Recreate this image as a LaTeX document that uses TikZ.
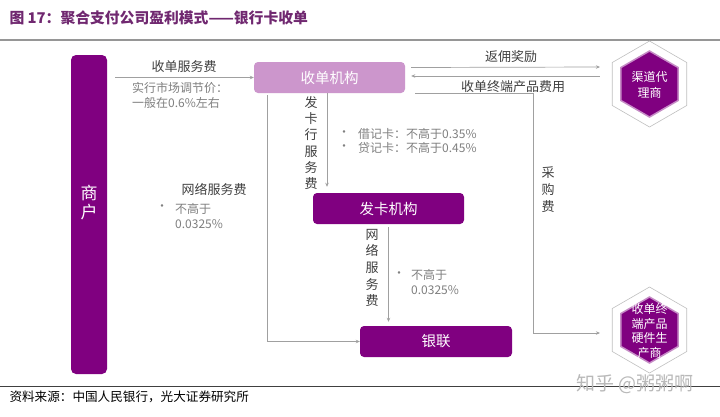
\documentclass[tikz,border=0pt]{standalone}
\usepackage{fontspec}
\newfontfamily\cjk{Noto Sans CJK SC}
\usetikzlibrary{shapes.geometric,arrows.meta}
\definecolor{zpurple}{RGB}{128,0,128}
\definecolor{zlight}{RGB}{204,150,204}
\definecolor{ztitle}{RGB}{112,40,112}
\definecolor{zdark}{RGB}{64,64,64}
\definecolor{zgray}{RGB}{128,128,128}
\definecolor{zline}{RGB}{160,160,160}
\definecolor{zrule}{RGB}{150,150,150}
\definecolor{zwater}{RGB}{185,185,185}
\begin{document}
\begin{tikzpicture}[x=1pt,y=-1pt,
  box/.style={rounded corners=4pt, minimum width=151pt, minimum height=31pt, inner sep=0pt,
    text=white, font=\cjk\fontsize{14.5}{16}\selectfont},
  hexout/.style={regular polygon, regular polygon sides=6, regular polygon rotate=30,
    minimum size=86pt, inner sep=0pt, draw=zrule!60, line width=0.6pt},
  hexin/.style={regular polygon, regular polygon sides=6, regular polygon rotate=30,
    minimum size=66pt, inner sep=0pt, fill=zpurple, draw=zpurple!45, line width=1.5pt},
  hextxt/.style={text=white, align=center, inner sep=0pt},
  lbl/.style={text=zdark, font=\cjk\fontsize{13}{15}\selectfont, inner sep=0pt},
  vlbl/.style={lbl, align=center},
  note/.style={text=zgray, font=\cjk\fontsize{12}{15}\selectfont, inner sep=0pt, align=left},
  arr/.style={draw=zline, line width=0.7pt, -{Stealth[length=4pt,width=3.5pt]}}]
  % page
  \useasboundingbox (0,0) rectangle (720,416);
  \fill[white] (0,0) rectangle (720,416);
  % title and rules
  \node[anchor=west, text=ztitle, font=\cjk\bfseries\fontsize{14.8}{17}\selectfont] (title) at (6,18)
    {图 17：聚合支付公司盈利模式——银行卡收单};
  \draw[zrule, line width=1.5pt] (0,40) -- (720,40);
  \draw[zdark, line width=0.8pt] (0,386) -- (720,386);
  % merchant bar
  \node[fill=zpurple, rounded corners=5pt, minimum width=36pt, minimum height=319pt, inner sep=0pt] (shanghu) at (89,214.5) {};
  \node[text=white, align=center, font=\cjk\fontsize{17}{19}\selectfont] (shanghutxt) at (89,203) {商\\户};
  % boxes
  \node[box, fill=zlight] (shoudan) at (329.5,77.5) {收单机构};
  \node[box, fill=zpurple] (faka) at (388.5,208.5) {发卡机构};
  \node[box, fill=zpurple, minimum width=152pt] (yinlian) at (436,341.5) {银联};
  % hexagons
  \foreach \n/\y/\t/\s in {qudao/84/{渠道代\\理商}/16, changshang/330/{收单终\\端产品\\硬件生\\产商}/14.5} {
    \node[hexout] (\n) at (649.5,\y) {};
    \node[hexin] (\n in) at (649.5,\y) {};
    \node[hextxt, font=\cjk\fontsize{12}{\s}\selectfont] (\n txt) at (649.5,\y+1) {\t};
  }
  % acquiring fee
  \draw[arr] ([xshift=8pt]shanghu.east |- shoudan.west) -- (shoudan.west);
  \node[lbl] (fee) at (184,67) {收单服务费};
  \node[note, anchor=west] (feenote) at (132,95) {实行市场调节价：\\一般在0.6\%左右};
  % rebates and terminal fee
  \draw[arr] ([shift={(6,-10)}]shoudan.east) -- ([shift={(-12,-17)}]qudao.west);
  \draw[arr] ([shift={(-12,-8)}]qudao.west) -- ([shift={(6,-1.5)}]shoudan.east);
  \node[lbl] (rebate) at (511,57) {返佣奖励};
  \node[lbl] (termfee) at (513,87) {收单终端产品费用};
  % purchase fee
  \draw[arr, shorten >=12pt] ([xshift=10pt]shoudan.south east) -- ++(118,0) |- ([yshift=-3pt]changshang.west);
  \node[vlbl, font=\cjk\fontsize{13}{17}\selectfont] (caigou) at (548,190) {采\\购\\费};
  % issuer fee
  \draw[arr, shorten >=6pt] ([xshift=-2.5pt]shoudan.south) -- ([xshift=-2.5pt]shoudan.south |- faka.north);
  \node[vlbl, font=\cjk\fontsize{13}{16.2}\selectfont] (fakafee) at (311,143) {发\\卡\\行\\服\\务\\费};
  \node[note] (dot1) at (344,134) {•};
  \node[note, anchor=west] (debit) at (358,134) {借记卡：不高于0.35\%};
  \node[note] (dot2) at (344,148) {•};
  \node[note, anchor=west] (credit) at (358,148) {贷记卡：不高于0.45\%};
  % network fee
  \draw[arr, shorten <=2pt] ([xshift=14pt]shoudan.south west) |- (yinlian.west);
  \node[lbl] (netfee) at (214,189) {网络服务费};
  \node[note] (dot3) at (162,208) {•};
  \node[note, anchor=west] (netnote) at (175,216) {不高于\\0.0325\%};
  \draw[arr, shorten <=3pt, shorten >=4pt] (faka.south) -- (faka.south |- yinlian.north);
  \node[vlbl, font=\cjk\fontsize{13}{16.7}\selectfont] (netfeev) at (372,268) {网\\络\\服\\务\\费};
  \node[note] (dot4) at (399,275) {•};
  \node[note, anchor=west] (netnotev) at (411,282.5) {不高于\\0.0325\%};
  % source and watermark
  \node[anchor=west, font=\cjk\fontsize{12.6}{14}\selectfont] (source) at (6,397) {资料来源：中国人民银行，光大证券研究所};
  \node[text=zwater, font=\cjk\fontsize{19}{20}\selectfont] (mark) at (635,384) {知乎 @粥粥啊};
\end{tikzpicture}
\end{document}
